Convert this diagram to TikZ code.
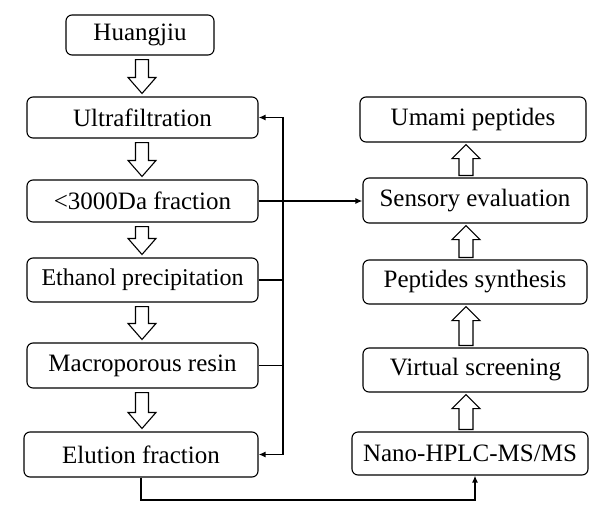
\documentclass[tikz,border=0pt]{standalone}
\usepackage{fontspec}
\setmainfont{Liberation Serif}
\usetikzlibrary{arrows.meta,calc}
\tikzset{
  box/.style={draw, rounded corners=6pt, line width=1.1pt, inner sep=0pt,
    font=\fontsize{25pt}{30pt}\selectfont},
  conn/.style={line width=1.8pt, -{Latex[length=7pt,width=6pt]}},
  plainconn/.style={line width=1.8pt},
  hollowarrow/.style={draw, line width=1.1pt, fill=white, line join=miter},
}
\newcommand\hdown[3]{%
  \path[hollowarrow] let \p1=(#1.south), \p2=(#2.north) in
    (#3-6.5pt,\y1-4pt) -- (#3+6.5pt,\y1-4pt) -- (#3+6.5pt,\y2+19pt) --
    (#3+14pt,\y2+19pt) -- (#3,\y2+3pt) -- (#3-14pt,\y2+19pt) --
    (#3-6.5pt,\y2+19pt) -- cycle;}
\newcommand\hup[3]{%
  \path[hollowarrow] let \p1=(#1.north), \p2=(#2.south) in
    (#3-7pt,\y1+2pt) -- (#3+7pt,\y1+2pt) -- (#3+7pt,\y2-16pt) --
    (#3+14pt,\y2-16pt) -- (#3,\y2-2pt) -- (#3-14pt,\y2-16pt) --
    (#3-7pt,\y2-16pt) -- cycle;}
\begin{document}
\begin{tikzpicture}[x=1pt,y=-1pt]
\useasboundingbox (0,0) rectangle (615,514);
% left column
\node[box, minimum width=148pt, minimum height=40pt] (huang) at (140,35) {Huangjiu};
\node[box, minimum width=231pt, minimum height=41pt] (ultra) at (142.5,117.5) {Ultrafiltration};
\node[box, minimum width=231pt, minimum height=42pt] (frac) at (142.5,201) {<3000Da fraction};
\node[box, minimum width=231pt, minimum height=44pt, font=\fontsize{24pt}{29pt}\selectfont] (eth) at (142.5,280) {Ethanol precipitation};
\node[box, minimum width=231pt, minimum height=45pt] (macro) at (142.5,365.5) {Macroporous resin};
\node[box, minimum width=234pt, minimum height=45pt] (elu) at (141,454.5) {Elution fraction};
% right column
\node[box, minimum width=226pt, minimum height=45pt] (umami) at (473,119.5) {Umami peptides};
\node[box, minimum width=224pt, minimum height=45pt] (sens) at (475,200.5) {Sensory evaluation};
\node[box, minimum width=224pt, minimum height=44pt] (pep) at (475,282) {Peptides synthesis};
\node[box, minimum width=225pt, minimum height=44pt] (virt) at (475.5,370) {Virtual screening};
\node[box, minimum width=236pt, minimum height=43pt] (nano) at (470,453.5) {Nano-HPLC-MS/MS};
% hollow arrows
\hdown{huang}{ultra}{142pt}
\hdown{ultra}{frac}{142pt}
\hdown{frac}{eth}{142pt}
\hdown{eth}{macro}{142pt}
\hdown{macro}{elu}{142pt}
\hup{nano}{virt}{466pt}
\hup{virt}{pep}{466pt}
\hup{pep}{sens}{466pt}
\hup{sens}{umami}{466pt}
% connectors
\coordinate (vx) at (283,0);
\coordinate (by) at (0,500);
\coordinate (nx) at (475,500);
\draw[conn] (frac.east) -- (frac.east -| sens.west);
\draw[line width=1.8pt, {Latex[length=7pt,width=6pt]}-{Latex[length=7pt,width=6pt]}]
  (ultra.east) -- (ultra.east -| vx) -- (elu.east -| vx) -- (elu.east);
\draw[line width=1.2pt] (eth.east) -- (eth.east -| vx);
\draw[plainconn] (macro.east) -- (macro.east -| vx);
\draw[conn] (elu.south) -- (elu.south |- by) -- (nx) -- (nx |- nano.south);
\end{tikzpicture}
\end{document}
